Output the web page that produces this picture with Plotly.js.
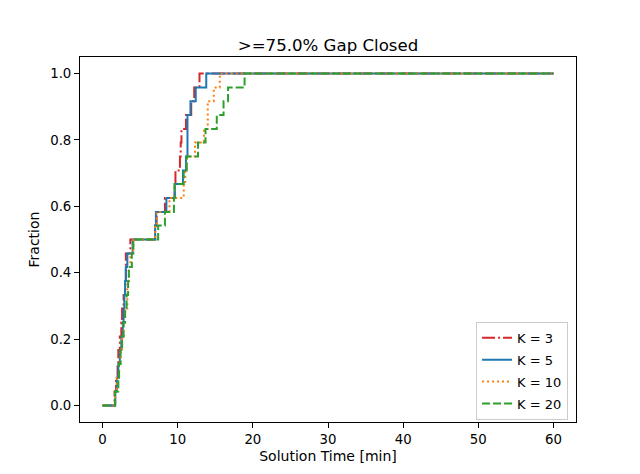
<!DOCTYPE html>
<html>
<head>
<meta charset="utf-8">
<script src="https://cdn.plot.ly/plotly-3.0.1.min.js"></script>
<style>
  html, body { margin: 0; padding: 0; background: #fff; }
  #chart { width: 640px; height: 474px; }
</style>
</head>
<body>
<div id="chart"></div>
<script>
// solution times [min] per K (0 start and 60 end included)
const timesK3  = [0, 1.6, 1.8, 2.0, 2.1, 2.3, 2.5, 2.6, 2.8, 3.0, 3.1, 3.1, 3.7,
                  7.0, 7.2, 8.3, 9.6, 9.7, 10.3, 10.4, 10.5, 11.1, 11.8, 12.2, 12.9, 60];
const timesK5  = [0, 1.7, 1.9, 2.1, 2.3, 2.5, 2.7, 2.8, 2.9, 3.0, 3.1, 3.3, 4.0,
                  7.0, 7.1, 8.5, 9.6, 10.7, 11.1, 11.3, 11.3, 11.3, 11.7, 12.4, 13.8, 60];
const timesK10 = [0, 1.7, 1.9, 2.2, 2.4, 2.6, 2.8, 3.0, 3.3, 3.3, 3.5, 3.7, 4.1,
                  7.0, 7.2, 8.9, 10.8, 11.0, 11.2, 12.3, 13.5, 14.0, 14.0, 14.8, 15.6, 60];
const timesK20 = [0, 1.65, 2.1, 2.2, 2.4, 2.6, 2.8, 3.0, 3.2, 3.4, 3.5, 3.9, 4.1,
                  7.4, 8.3, 9.5, 9.6, 10.8, 11.2, 12.7, 13.7, 15.2, 16.1, 16.7, 18.9, 60];

// fraction solved after each step (24 instances)
const fraction = [0, 0.042, 0.083, 0.125, 0.167, 0.208, 0.25, 0.292, 0.333, 0.375, 0.417, 0.458, 0.5,
                  0.542, 0.583, 0.625, 0.667, 0.708, 0.75, 0.792, 0.833, 0.875, 0.917, 0.958, 1.0, 1.0];

const seriesNames = ['K = 3', 'K = 5', 'K = 10', 'K = 20'];
const xTicks = [0, 10, 20, 30, 40, 50, 60];
const yTicks = [0.0, 0.2, 0.4, 0.6, 0.8, 1.0];

const styles = [
  { color: '#d62728', dash: '13px,3px,2px,3px' },
  { color: '#1f77b4', dash: 'solid' },
  { color: '#ff7f0e', dash: '2px,3px' },
  { color: '#2ca02c', dash: '8px,3px' }
];

const traces = [timesK3, timesK5, timesK10, timesK20].map((t, i) => ({
  x: t,
  y: fraction,
  type: 'scatter',
  mode: 'lines',
  name: seriesNames[i],
  legendgroup: 'g' + i, // separate groups so tracegroupgap spaces the entries
  line: { color: styles[i].color, dash: styles[i].dash, width: 2, shape: 'hv' }
}));

const layout = {
  width: 640,
  height: 474,
  font: { family: 'DejaVu Sans', size: 13.3, color: '#000' },
  paper_bgcolor: '#fff',
  plot_bgcolor: '#fff',
  margin: { l: 80, r: 64, t: 57, b: 52 },
  title: {
    text: '>=75.0% Gap Closed',
    font: { size: 16.6 },
    x: 0.5, xref: 'paper',
    y: 1, yref: 'paper', yanchor: 'bottom',
    pad: { b: 6 }
  },
  showlegend: true,
  legend: {
    x: 0.984, y: 0.006, xanchor: 'right', yanchor: 'bottom',
    bordercolor: '#ccc', borderwidth: 1, bgcolor: 'rgba(255,255,255,0.8)',
    font: { size: 13 },
    traceorder: 'grouped',
    tracegroupgap: 2
  },
  xaxis: {
    title: { text: 'Solution Time [min]', standoff: 5, font: { size: 14 } },
    range: [-3, 63],
    tickvals: xTicks,
    ticktext: xTicks.map(v => String(v)),
    ticks: 'outside', ticklen: 5, tickcolor: '#000',
    tickfont: { size: 13.3 },
    showgrid: false, zeroline: false,
    showline: true, linecolor: '#000', linewidth: 1, mirror: true
  },
  yaxis: {
    title: { text: 'Fraction', standoff: 7, font: { size: 14 } },
    range: [-0.05, 1.05],
    tickvals: yTicks,
    ticktext: yTicks.map(v => v.toFixed(1)),
    ticks: 'outside', ticklen: 5, tickcolor: '#000',
    tickfont: { size: 13.3 },
    showgrid: false, zeroline: false,
    showline: true, linecolor: '#000', linewidth: 1, mirror: true
  }
};

Plotly.newPlot('chart', traces, layout, { displayModeBar: false, staticPlot: true });
</script>
</body>
</html>
